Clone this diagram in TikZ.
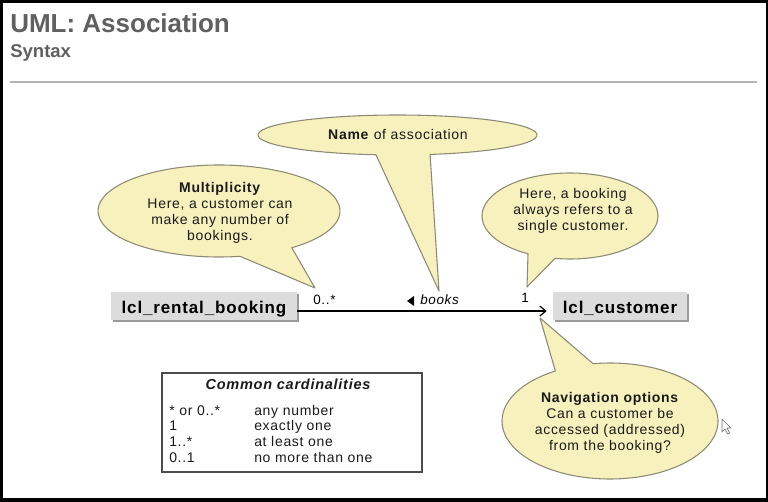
\documentclass[tikz,border=0pt]{standalone}
\usepackage{fontspec}
\setmainfont{Liberation Sans}[LetterSpace=5]
\newfontfamily\titlefont{Liberation Sans}
\usetikzlibrary{arrows.meta,calc,shadows}
\definecolor{bubfill}{HTML}{F7F1BD}
\definecolor{bubline}{HTML}{8C8A74}
\definecolor{titlegray}{HTML}{606060}
\definecolor{rulegray}{HTML}{B5B5B5}
\definecolor{boxfill}{HTML}{DCDCDC}
\definecolor{boxshadow}{HTML}{9A9A9A}
\definecolor{txt}{HTML}{1A1A1A}
\begin{document}
\begin{tikzpicture}[x=0.75pt,y=-0.75pt,
  bubble/.style={fill=bubfill,draw=bubline,line width=0.8pt,line join=round},
  btext/.style={align=center,inner sep=0pt,text=txt,font=\fontsize{10.5}{12}\selectfont},
  cls/.style={fill=boxfill,inner sep=0pt,text height=11.25pt,text depth=0pt,minimum height=21pt,
    font=\bfseries\fontsize{12.75}{15}\selectfont,
    drop shadow={shadow xshift=1.5pt,shadow yshift=-1.5pt,fill=boxshadow,opacity=1}},
  lbl/.style={inner sep=0pt,anchor=base west,font=\fontsize{10.1}{12}\selectfont},
  assoc/.style={line width=0.9pt,-{Straight Barb[length=4.5pt,width=7.5pt,line width=0.9pt]},shorten >=4.5pt},
  cardtext/.style={inner sep=0pt,text=txt,font=\fontsize{10.5}{11.8}\selectfont}
]
\useasboundingbox (0,0) rectangle (768,502);
% frame
\fill[black] (0,0) rectangle (768,502);
\fill[white] (3,3) rectangle (766,498);

% heading
\node[inner sep=0pt,anchor=base west,text=titlegray,font=\titlefont\bfseries\fontsize{19.5}{22}\selectfont] (title) at (10,33) {UML: Association};
\node[inner sep=0pt,anchor=base west,text=titlegray,font=\titlefont\bfseries\fontsize{13.9}{16}\selectfont] (subtitle) at (10,58) {Syntax};
\draw[rulegray,line width=1.5pt] (10,82) -- (757,82);

% bubbles
\path[bubble] (219,211) ++(80:121 and 46) arc[start angle=80,end angle=413,x radius=121,y radius=46] -- (315,288) -- cycle;
\path[bubble] (397.5,135) ++(98.9:139.5 and 20) arc[start angle=98.9,end angle=436.5,x radius=139.5,y radius=20] -- (439,291) -- cycle;
\path[bubble] (570,216) ++(118.5:88 and 43) arc[start angle=118.5,end angle=459.8,x radius=88,y radius=43] -- (527,287) -- cycle;
\path[bubble] (610,421) ++(261:108 and 58) arc[start angle=261,end angle=599.6,x radius=108,y radius=58] -- (540,318) -- cycle;

\node[btext] (multtext) at (220,213.3) {\textbf{Multiplicity}\\Here, a customer can\\make any number of\\bookings.};
\node[btext,anchor=base] (nametext) at (398,140) {\textbf{Name} of association};
\node[btext] (singletext) at (573,210.4) {Here, a booking\\always refers to a\\single customer.};
\node[btext,font=\fontsize{10.5}{12.2}\selectfont] (navtext) at (610,422.8) {\textbf{Navigation options}\\Can a customer be\\accessed (addressed)\\from the booking?};

% classes
\node[cls,minimum width=139.5pt] (book) at (204,306.5) {lcl\_rental\_booking};
\node[cls,minimum width=100.5pt] (cust) at (620,306.5) {lcl\_customer};

% association
\draw[assoc] ([yshift=-3.4pt]book.east) -- ([yshift=-3.4pt]cust.west);
\node[lbl] (multlbl) at (313,305) {0..*};
\node[lbl,font=\itshape\fontsize{10.1}{12}\selectfont] (namelbl) at (420,305) {books};
\fill ([shift={(-13,-4)}]namelbl.base west) -- ++(7,-5) -- ++(0,10) -- cycle;
\node[lbl] (onelbl) at (521,303) {1};

% cardinalities
\node[draw=black!70,line width=0.8pt,minimum width=195pt,minimum height=74.25pt,inner sep=0pt] (card) at (292,422.5) {};
\node[cardtext,anchor=base,font=\bfseries\itshape\fontsize{10.9}{13}\selectfont] (cardtitle) at (288,390) {Common cardinalities};
\node[cardtext,align=left,anchor=north west] (cardrows) at (169,404.7) {%
\makebox[63.75pt][l]{* or 0..*}any number\\
\makebox[63.75pt][l]{1}exactly one\\
\makebox[63.75pt][l]{1..*}at least one\\
\makebox[63.75pt][l]{0..1}no more than one};

% mouse pointer
\draw[black!55,fill=white,line width=0.5pt,line join=round] (722,419) -- (722,432) -- (725,429) -- (727.5,434) -- (729.5,433) -- (727,428) -- (731,428) -- cycle;
\end{tikzpicture}
\end{document}
